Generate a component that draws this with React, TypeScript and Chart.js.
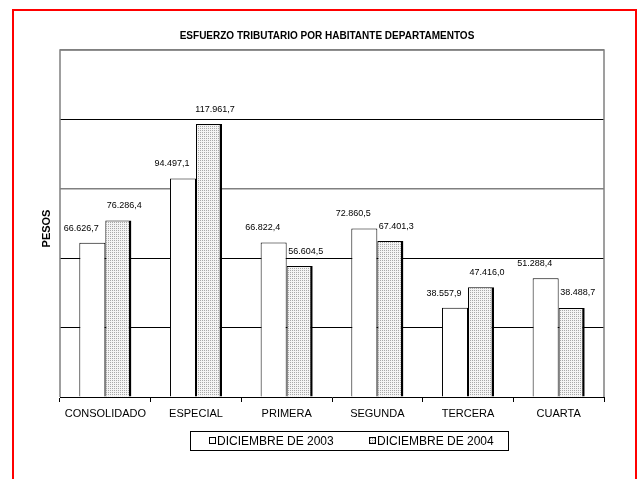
import React, { useEffect, useRef } from "react";
import { Chart, registerables } from "chart.js";

Chart.register(...registerables);

const TITLE = "ESFUERZO TRIBUTARIO POR HABITANTE DEPARTAMENTOS";
const Y_TITLE = "PESOS";
const categories = ["CONSOLIDADO", "ESPECIAL", "PRIMERA", "SEGUNDA", "TERCERA", "CUARTA"];
const seriesNames = ["DICIEMBRE DE 2003", "DICIEMBRE DE 2004"];
const values2003 = [66626.7, 94497.1, 66822.4, 72860.5, 38557.9, 51288.4];
const values2004 = [76286.4, 117961.7, 56604.5, 67401.3, 47416.0, 38488.7];
const yMax = 150000;
const yStep = 30000;

const FONT = '"Liberation Sans", Arial, Helvetica, sans-serif';

function fmt(v: number): string {
  const [i, d] = v.toFixed(1).split(".");
  return i.replace(/\B(?=(\d{3})+(?!\d))/g, ".") + "," + d;
}

function makePattern(): CanvasPattern | string {
  const c = document.createElement("canvas");
  c.width = 2;
  c.height = 2;
  const g = c.getContext("2d");
  if (!g) return "#e4e4e4";
  g.fillStyle = "#f4f4f4";
  g.fillRect(0, 0, 2, 2);
  g.fillStyle = "#a8a8a8";
  g.fillRect(0, 0, 1, 1);
  const p = g.createPattern(c, "repeat");
  return p || "#e4e4e4";
}

const overlay = {
  id: "overlay",
  beforeDatasetsDraw(chart: any) {
    const { ctx, chartArea: a } = chart;
    ctx.save();
    ctx.strokeStyle = "#808080";
    ctx.lineWidth = 1.5;
    ctx.beginPath();
    ctx.moveTo(a.left, a.bottom);
    ctx.lineTo(a.left, a.top);
    ctx.lineTo(a.right, a.top);
    ctx.lineTo(a.right, a.bottom);
    ctx.stroke();
    ctx.restore();
  },
  afterDraw(chart: any) {
    const { ctx, chartArea: a } = chart;
    ctx.save();
    // title
    ctx.fillStyle = "#000";
    ctx.font = `bold 10px ${FONT}`;
    ctx.textAlign = "center";
    ctx.textBaseline = "middle";
    ctx.fillText(TITLE, 327, 36);
    // y title
    ctx.save();
    ctx.translate(47, (a.top + a.bottom) / 2 + 5);
    ctx.rotate(-Math.PI / 2);
    ctx.font = `bold 11px ${FONT}`;
    ctx.fillText(Y_TITLE, 0, 0);
    ctx.restore();
    // data labels
    ctx.font = `9px ${FONT}`;
    const offs = [
      { dx: -11, dy: -14.5 },
      { dx: 6, dy: -15 },
    ];
    chart.data.datasets.forEach((ds: any, di: number) => {
      const meta = chart.getDatasetMeta(di);
      meta.data.forEach((el: any, i: number) => {
        ctx.fillText(fmt(ds.data[i]), el.x + offs[di].dx, el.y + offs[di].dy);
      });
    });
    // legend
    const lx = 190.5, ly = 431.5, lw = 318, lh = 19;
    ctx.fillStyle = "#fff";
    ctx.fillRect(lx, ly, lw, lh);
    ctx.strokeStyle = "#000";
    ctx.lineWidth = 1;
    ctx.strokeRect(lx, ly, lw, lh);
    const itemX = [209, 369];
    ctx.font = `12px ${FONT}`;
    ctx.textAlign = "left";
    chart.data.datasets.forEach((ds: any, di: number) => {
      const sx = itemX[di];
      ctx.fillStyle = ds.backgroundColor;
      ctx.fillRect(sx + 0.5, 437.5, 6, 6);
      ctx.strokeStyle = "#000";
      ctx.strokeRect(sx + 0.5, 437.5, 6, 6);
      ctx.fillStyle = "#000";
      ctx.fillText(ds.label, sx + 8, 442);
    });
    ctx.restore();
  },
};

export default function App() {
  const ref = useRef<HTMLCanvasElement>(null);
  useEffect(() => {
    if (!ref.current) return;
    const pattern = makePattern();
    const chart = new Chart(ref.current, {
      type: "bar",
      data: {
        labels: categories,
        datasets: [
          {
            label: seriesNames[0],
            data: values2003,
            backgroundColor: "#ffffff",
            borderColor: "#000000",
            borderWidth: { top: 1, left: 1, right: 1, bottom: 0 },
            borderSkipped: false,
            categoryPercentage: 0.574,
            barPercentage: 1,
          },
          {
            label: seriesNames[1],
            data: values2004,
            backgroundColor: pattern as any,
            borderColor: "#000000",
            borderWidth: { top: 1, left: 1, right: 2.5, bottom: 0 },
            borderSkipped: false,
            categoryPercentage: 0.574,
            barPercentage: 1,
          },
        ],
      },
      options: {
        responsive: false,
        animation: false,
        devicePixelRatio: 1,
        layout: { padding: { left: 60, top: 50, right: 34, bottom: 52 } },
        plugins: {
          legend: { display: false },
          title: { display: false },
          tooltip: { enabled: false },
        },
        scales: {
          x: {
            grid: {
              offset: true,
              drawOnChartArea: false,
              drawTicks: true,
              tickLength: 5,
              color: "#000",
            },
            border: { color: "#000", width: 1 },
            ticks: {
              color: "#000",
              font: { family: FONT, size: 11 },
              padding: 5,
              maxRotation: 0,
              autoSkip: false,
            },
            afterFit: (s: any) => {
              s.height = 30;
            },
          },
          y: {
            min: 0,
            max: yMax,
            ticks: { display: false, stepSize: yStep },
            border: { display: false },
            grid: {
              drawTicks: false,
              color: (c: any) => {
                const v = c.tick && c.tick.value;
                if (v === 0) return "rgba(0,0,0,0)";
                if (v === 90000 || v === yMax) return "#808080";
                return "#000";
              },
              lineWidth: (c: any) => {
                const v = c.tick && c.tick.value;
                return v === 90000 || v === yMax ? 1.5 : 1;
              },
            },
            afterFit: (s: any) => {
              s.width = 0;
            },
          },
        },
      },
      plugins: [overlay],
    });
    return () => chart.destroy();
  }, []);
  return (
    <div
      style={{
        position: "fixed",
        left: 0,
        top: 0,
        width: 638,
        height: 479,
        overflow: "hidden",
        background: "#fff",
      }}
    >
      <canvas ref={ref} width={638} height={479} style={{ position: "absolute", left: 0, top: 0, width: 638, height: 479 }} />
      <div
        style={{
          position: "absolute",
          left: 12,
          top: 9,
          width: 621,
          height: 520,
          border: "2px solid #ff0000",
          pointerEvents: "none",
        }}
      />
    </div>
  );
}
